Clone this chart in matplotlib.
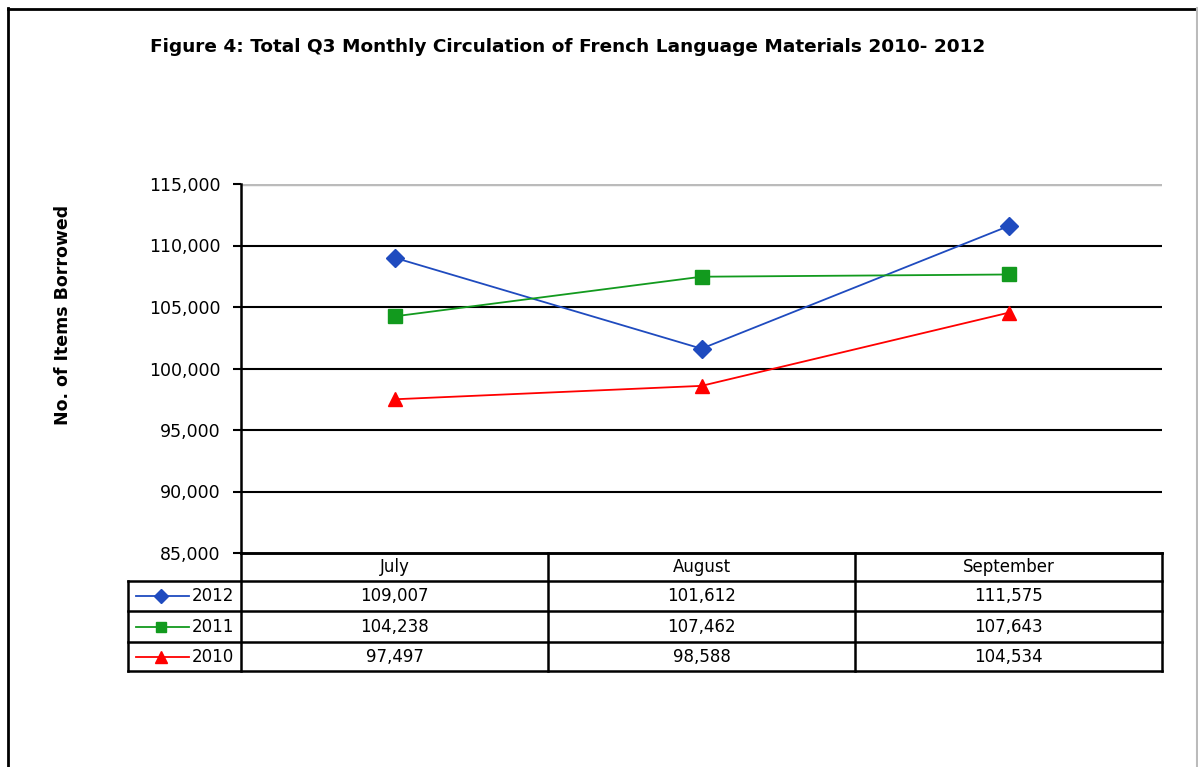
import matplotlib
matplotlib.use("Agg")
import matplotlib.pyplot as plt
from matplotlib.lines import Line2D

months = ["July", "August", "September"]
series_names = ["2012", "2011", "2010"]
values_2012 = [109007, 101612, 111575]
values_2011 = [104238, 107462, 107643]
values_2010 = [97497, 98588, 104534]
series_values = [values_2012, values_2011, values_2010]
colors = ["#1F4BBF", "#129A1E", "#FF0000"]
markers = ["D", "s", "^"]
msizes = [9, 9.5, 10.5]
y_ticks = [85000, 90000, 95000, 100000, 105000, 110000, 115000]

W, H = 1198, 767
fig = plt.figure(figsize=(W / 100, H / 100), dpi=100)
plt.rcParams['font.family'] = ['DejaVu Sans']

def fx(px):
    return px / W

def fy(py):
    return 1 - py / H

# outer frame
fig.add_artist(Line2D([fx(7.5), fx(7.5)], [fy(8), 0], color="black", lw=2, transform=fig.transFigure))
fig.add_artist(Line2D([fx(7.5), fx(1197)], [fy(8.5), fy(8.5)], color="black", lw=2, transform=fig.transFigure))
fig.add_artist(Line2D([fx(1197), fx(1197)], [fy(8), 0], color="#BBBBBB", lw=1.5, transform=fig.transFigure))

# plot area
L, R, T, B = 241, 1162, 184, 553
ax = fig.add_axes([fx(L), fy(B), fx(R - L), (B - T) / H])
x = list(range(len(months)))
for name, vals, c, m, ms in zip(series_names, series_values, colors, markers, msizes):
    ax.plot(x, vals, color=c, lw=1.3, marker=m, markersize=ms, markerfacecolor=c,
            markeredgecolor=c, zorder=3, clip_on=False)
ax.set_xlim(-0.5, len(months) - 0.5)
ax.set_ylim(y_ticks[0], y_ticks[-1])
ax.set_yticks(y_ticks)
ax.set_yticklabels([f"{v:,}" for v in y_ticks], fontsize=12.5)
ax.tick_params(axis="y", length=6, width=1.5, pad=9)
ax.set_xticks([])
for yv in y_ticks[1:-1]:
    ax.axhline(yv, color="black", lw=1.5, zorder=1)
ax.axhline(y_ticks[-1], color="#BBBBBB", lw=2.5, zorder=1)
ax.spines["top"].set_visible(False)
ax.spines["right"].set_visible(False)
ax.spines["left"].set_linewidth(1.8)
ax.spines["bottom"].set_linewidth(1.8)

# y label
fig.text(fx(63), fy(315), "No. of Items Borrowed", rotation=90, ha="center", va="center",
         fontsize=12.5, fontweight="bold")

# title
fig.text(fx(568), fy(47), "Figure 4: Total Q3 Monthly Circulation of French Language Materials 2010- 2012",
         ha="center", va="center", fontsize=13.3, fontweight="bold")

# data table
col_edges = [L + i * (R - L) / len(months) for i in range(len(months) + 1)]
row_edges = [553, 581, 611, 642, 671]
TL = 128
lw = 1.8
for cx in col_edges:
    fig.add_artist(Line2D([fx(cx), fx(cx)], [fy(row_edges[0]), fy(row_edges[-1])], color="black", lw=lw, transform=fig.transFigure))
fig.add_artist(Line2D([fx(TL), fx(TL)], [fy(row_edges[1]), fy(row_edges[-1])], color="black", lw=lw, transform=fig.transFigure))
fig.add_artist(Line2D([fx(L), fx(R)], [fy(row_edges[0]), fy(row_edges[0])], color="black", lw=lw, transform=fig.transFigure))
for ry in row_edges[1:]:
    fig.add_artist(Line2D([fx(TL), fx(R)], [fy(ry), fy(ry)], color="black", lw=lw, transform=fig.transFigure))

for j, mname in enumerate(months):
    cx = (col_edges[j] + col_edges[j + 1]) / 2
    fig.text(fx(cx), fy((row_edges[0] + row_edges[1]) / 2), mname, ha="center", va="center", fontsize=12)
for i, (name, vals, c, m, ms) in enumerate(zip(series_names, series_values, colors, markers, msizes)):
    cy = (row_edges[i + 1] + row_edges[i + 2]) / 2
    fig.add_artist(Line2D([fx(136), fx(189)], [fy(cy), fy(cy)], color=c, lw=1.3, transform=fig.transFigure))
    fig.add_artist(Line2D([fx(161)], [fy(cy)], color=c, marker=m, markersize=ms - 2, markerfacecolor=c,
                          markeredgecolor=c, transform=fig.transFigure))
    fig.text(fx(234), fy(cy), name, ha="right", va="center", fontsize=12)
    for j, v in enumerate(vals):
        cx = (col_edges[j] + col_edges[j + 1]) / 2
        fig.text(fx(cx), fy(cy), f"{v:,}", ha="center", va="center", fontsize=12)

fig.savefig("out.png", dpi=100)
